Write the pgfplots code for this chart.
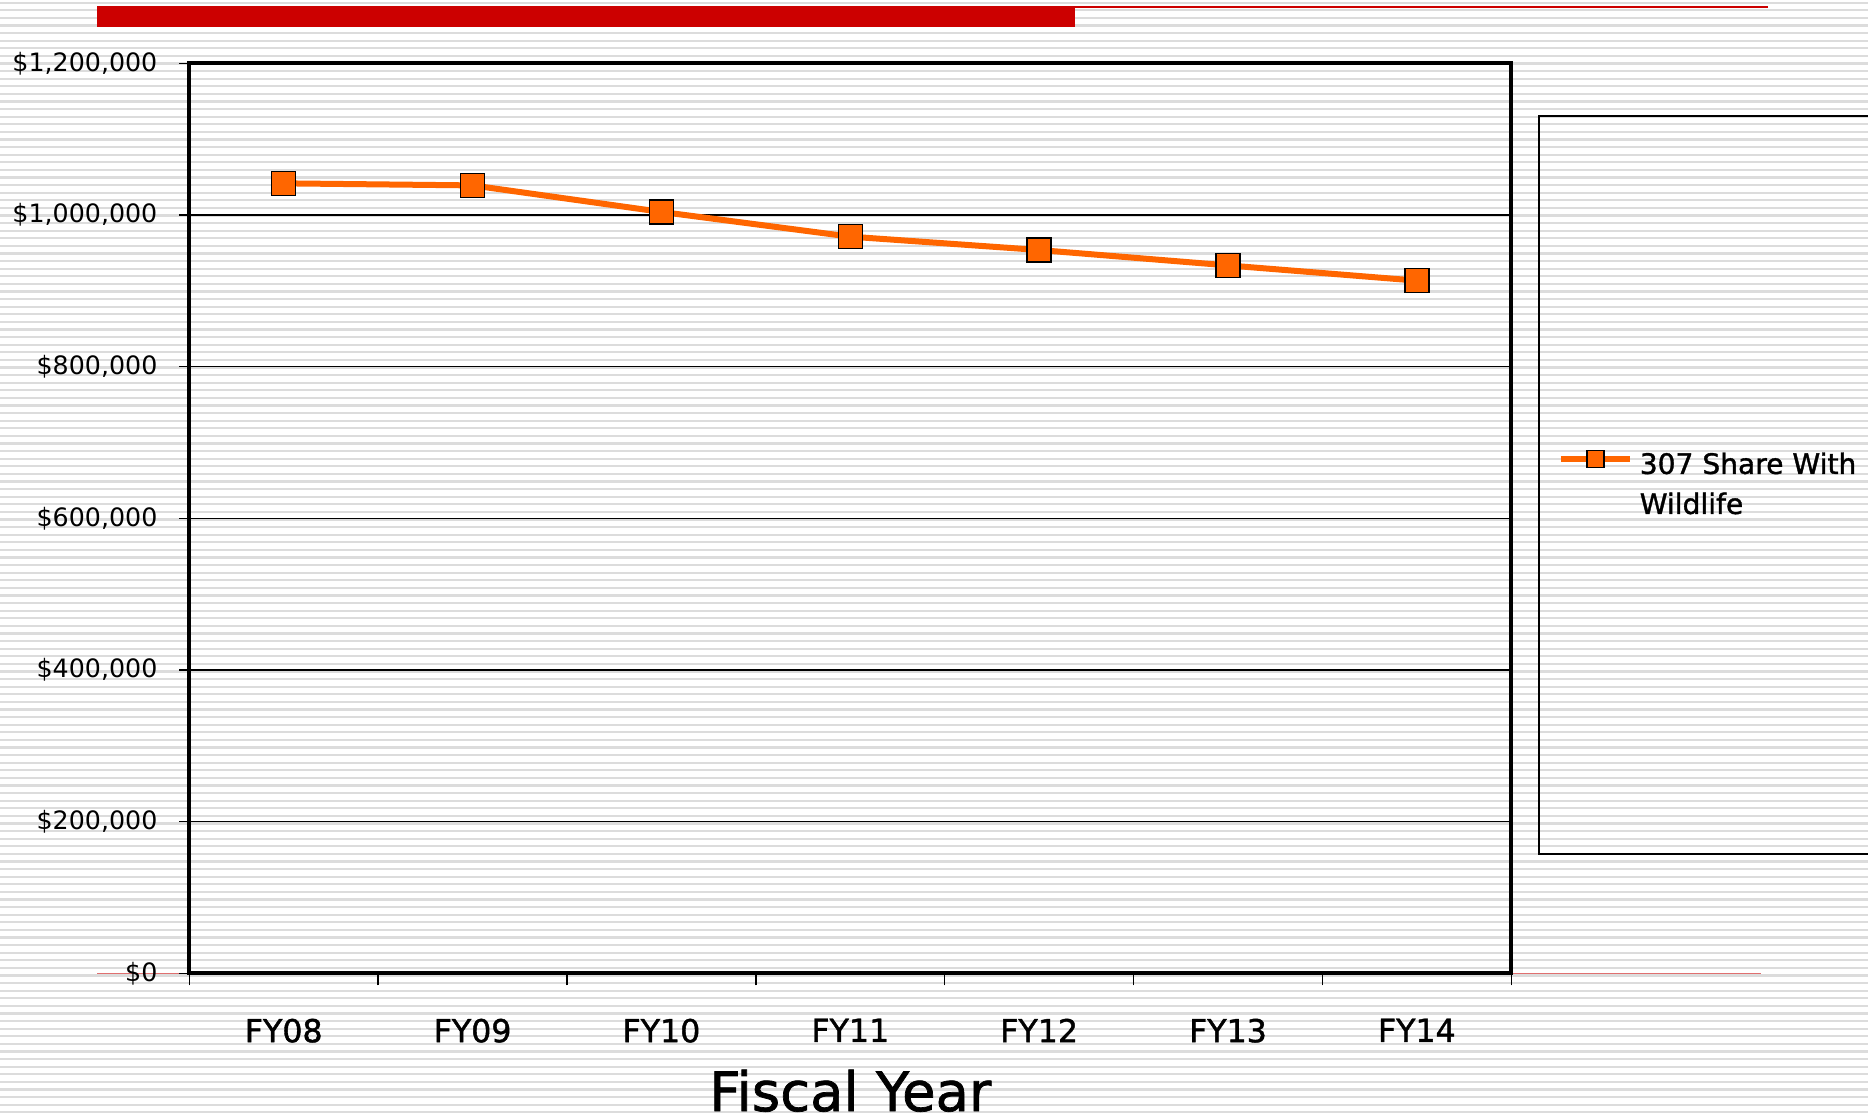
\documentclass[border=0pt]{standalone}
\usepackage{pgfplots}
\pgfplotsset{compat=1.18}
\usepackage{fontspec}
\setmainfont{DejaVu Sans}
\newfontfamily\medfont[FakeBold=1.3]{DejaVu Sans}
\definecolor{stripe}{HTML}{DCDCDC}
\definecolor{redbar}{HTML}{CC0000}
\definecolor{zeroline}{HTML}{E07070}
\definecolor{orangeline}{HTML}{FF6600}
\begin{document}
\begin{tikzpicture}
\path[use as bounding box] (0,0) rectangle (186.8mm,-111.7mm);
\clip (0,0) rectangle (186.8mm,-111.7mm);
\fill[white] (0,0) rectangle (186.8mm,-111.7mm);
\begin{scope}[x=0.1mm,y=-0.1mm]
\foreach \k in {0,...,147} {\fill[stripe] (0,{2.7+7.6*\k-1.1}) rectangle (1868,{2.7+7.6*\k+1.1});}
\fill[redbar] (96.5,6) rectangle (1074.6,27.4);
\fill[redbar] (1074,6) rectangle (1768,8.2);
\draw[zeroline, line width=0.15mm] (97,973.3) -- (1761,973.3);
\end{scope}
\begin{axis}[
  at={(18.93mm,-97.33mm)}, anchor=south west,
  width=132.2mm, height=91.0mm, scale only axis,
  xmin=-0.5, xmax=6.5, ymin=0, ymax=1200000,
  xtick={0,...,6},
  xticklabels={FY08,FY09,FY10,FY11,FY12,FY13,FY14},
  minor xtick={-0.5,0.5,...,6.5},
  ytick={0,200000,400000,600000,800000,1000000,1200000},
  yticklabels={{\$0},{\$200,000},{\$400,000},{\$600,000},{\$800,000},{\$1,000,000},{\$1,200,000}},
  scaled y ticks=false,
  major x tick style={draw=none},
  tick align=outside, xtick pos=bottom, ytick pos=left,
  major tick length=1mm, minor tick length=1.2mm,
  every tick/.style={black, line width=0.15mm},
  ymajorgrids, major grid style={black, line width=0.15mm},
  axis line style={line width=0.4mm},
  yticklabel style={font=\fontsize{7.2}{9}\selectfont, xshift=-0.95mm},
  xticklabel style={font=\medfont\fontsize{9}{10}\selectfont, yshift=-2.3mm},
  /pgf/number format/assume math mode=true,
  xlabel={Fiscal Year},
  xlabel style={font=\medfont\fontsize{15.5}{18}\selectfont, inner sep=0pt, at={(axis description cs:0.5,0)}, anchor=center, yshift=-11.75mm},
  legend style={at={(axis description cs:1.0204,0.9432)}, anchor=north west, draw=black, line width=0.2mm, fill=none, inner xsep=1.85mm, minimum height=72.4mm, font=\medfont\fontsize{8}{11.4}\selectfont, /tikz/every even column/.append style={column sep=0.2mm}},
  legend cell align=left,
  legend image code/.code={\draw[yshift=2.62mm,mark repeat=2,mark phase=2,#1, mark size=0.85mm] plot coordinates {(0mm,0mm) (3.45mm,0mm) (6.9mm,0mm)};},
]
\addplot[color=orangeline, line width=0.6mm, mark=square*, mark size=1.2mm, mark options={fill=orangeline, draw=black, line width=0.15mm, solid}] coordinates {(0,1041700) (1,1039000) (2,1004000) (3,971400) (4,953800) (5,933500) (6,913400)};
\addlegendentry{\raisebox{2.6mm}{\begin{tabular}[c]{@{}l@{}}307 Share With\\Wildlife\end{tabular}}}
\end{axis}
\end{tikzpicture}
\end{document}
